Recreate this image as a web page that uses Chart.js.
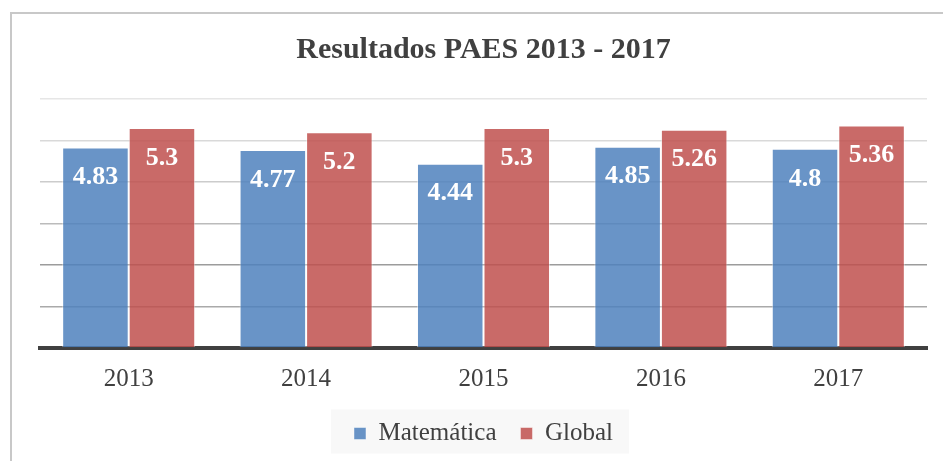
<!DOCTYPE html>
<html>
<head>
<meta charset="utf-8">
<script src="https://cdn.jsdelivr.net/npm/chart.js@4/dist/chart.umd.min.js"></script>
<style>
  html, body { margin: 0; padding: 0; background: #fff; overflow: hidden; }
  #frame { position: absolute; left: 10px; top: 12px; width: 1000px; height: 500px;
           border-left: 2px solid #c8c8c8; border-top: 2px solid #c8c8c8; }
  #wrap { position: absolute; left: 10px; top: 0; width: 947px; height: 461px; }
</style>
</head>
<body>
<div id="frame"></div>
<div id="wrap"><canvas id="paesChart"></canvas></div>
<script>
const years = ['2013', '2014', '2015', '2016', '2017'];
const matematica = [4.83, 4.77, 4.44, 4.85, 4.8];
const global = [5.3, 5.2, 5.3, 5.26, 5.36];

const gridColors = ['rgba(0,0,0,0)', '#aaaaaa', '#9c9c9c', '#bbbbbb', '#cccccc', '#d9d9d9', '#e6e6e6'];

// white value labels inside the top of each bar
const barLabels = {
    id: 'barLabels',
    afterDatasetsDraw(chart) {
        const ctx = chart.ctx;
        ctx.save();
        ctx.fillStyle = '#ffffff';
        ctx.font = 'bold 26px "Liberation Serif"';
        ctx.textAlign = 'center';
        ctx.textBaseline = 'middle';
        chart.data.datasets.forEach((ds, i) => {
            chart.getDatasetMeta(i).data.forEach((bar, j) => {
                ctx.fillText(String(ds.data[j]), bar.x, bar.y + 30);
            });
        });
        ctx.restore();
    }
};

// light grey box behind the legend
const legendBg = {
    id: 'legendBg',
    beforeDraw(chart) {
        const boxes = chart.legend.legendHitBoxes;
        if (!boxes || !boxes.length) return;
        let l = Infinity, r = -Infinity, t = Infinity, b = -Infinity;
        boxes.forEach(h => {
            l = Math.min(l, h.left); r = Math.max(r, h.left + h.width);
            t = Math.min(t, h.top); b = Math.max(b, h.top + h.height);
        });
        const ctx = chart.ctx;
        ctx.save();
        ctx.fillStyle = '#f8f8f8';
        const cy = (t + b) / 2;
        ctx.fillRect(l - 23, cy - 24, (r - l) + 39, 44);
        ctx.restore();
    }
};

const data = {
    labels: years,
    datasets: [
        {
            label: 'Matemática',
            data: matematica,
            backgroundColor: 'rgba(79,129,189,0.85)',
            borderColor: 'rgba(255,255,255,0.45)',
            borderWidth: 1
        },
        {
            label: 'Global',
            data: global,
            backgroundColor: 'rgba(192,80,77,0.85)',
            borderColor: 'rgba(255,255,255,0.45)',
            borderWidth: 1
        }
    ]
};

const config = {
    type: 'bar',
    data: data,
    plugins: [barLabels, legendBg],
    options: {
        responsive: true,
        maintainAspectRatio: false,
        animation: false,
        categoryPercentage: 0.75,
        barPercentage: 1,
        layout: { padding: { left: 30, right: 30, top: 32, bottom: 5 } },
        plugins: {
            title: {
                display: true,
                text: 'Resultados PAES 2013 - 2017',
                color: '#404040',
                font: { family: 'Liberation Serif', size: 30, weight: 'bold' },
                padding: { top: 0, bottom: 31 }
            },
            legend: {
                display: true,
                position: 'bottom',
                labels: {
                    color: '#404040',
                    font: { family: 'Liberation Serif', size: 25 },
                    boxWidth: 12,
                    boxHeight: 12,
                    padding: 24
                }
            },
            tooltip: { enabled: false }
        },
        scales: {
            y: {
                min: 0,
                max: 6,
                ticks: { display: false, stepSize: 1 },
                border: { display: false },
                grid: {
                    drawTicks: false,
                    color: c => gridColors[c.tick.value] || '#cccccc',
                    lineWidth: 1.5
                }
            },
            x: {
                z: 1,
                afterFit: scale => { scale.height = 49; },
                ticks: {
                    color: '#404040',
                    font: { family: 'Liberation Serif', size: 25 },
                    padding: 16
                },
                grid: { display: false, drawTicks: false },
                border: { display: true, color: '#404040', width: 4 }
            }
        }
    }
};

new Chart(document.getElementById('paesChart').getContext('2d'), config);
</script>
</body>
</html>
